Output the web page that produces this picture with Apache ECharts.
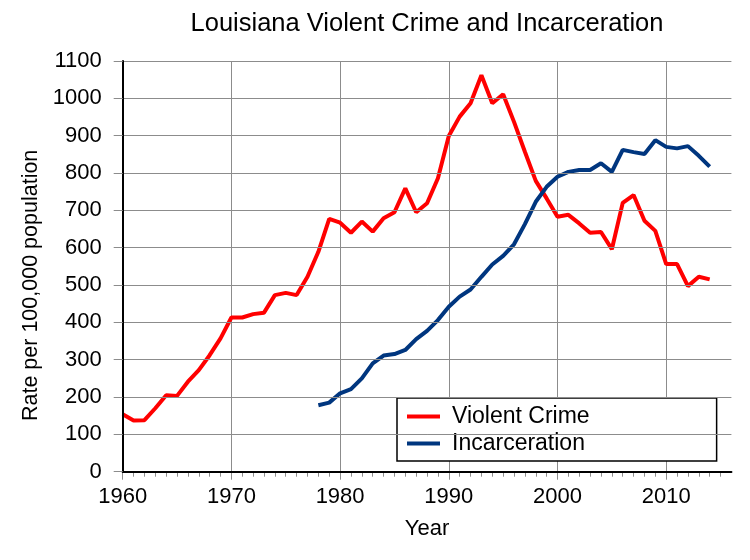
<!DOCTYPE html>
<html><head><meta charset="utf-8">
<script src="https://cdn.jsdelivr.net/npm/echarts@6/dist/echarts.min.js"></script>
<style>html,body{margin:0;padding:0;background:#fff}#c{width:750px;height:560px}</style>
</head><body><div id="c"></div>
<script>
const years = [];
for (let y = 1960; y <= 2014; y++) years.push(y);
const violentCrime = [154,137,138,170,205,203,241,272,312,357,413,413,422,426,473,479,473,522,589,677,
  667,640,670,643,679,695,759,695,719,786,899,951,987,1062,987,1011,937,857,779,732,
  683,688,665,640,642,596,720,741,672,645,556,556,497,522,515];
const incarceration = [null,null,null,null,null,null,null,null,null,null,null,null,null,null,null,null,null,null,178,185,
  210,221,250,290,311,315,326,355,377,406,442,469,488,522,555,578,609,663,723,763,
  790,803,808,808,826,803,862,856,851,888,870,866,872,846,817];
const yTicks = [0,100,200,300,400,500,600,700,800,900,1000,1100];

const FONT = '"Liberation Sans", Arial, sans-serif';
const L = 122.7, PX = 10.87, TOP = 61, BOTTOM = 88.3;
const rightOf = yr => 750 - (L + (yr - 1960) * PX);
const gray = '#8c8c8c';

const chart = echarts.init(document.getElementById('c'));
chart.setOption({
  animation: false,
  backgroundColor: '#fff',
  title: {
    text: 'Louisiana Violent Crime and Incarceration',
    left: 427, top: 11, textAlign: 'center', padding: 0,
    textStyle: {fontFamily: FONT, fontSize: 25.5, fontWeight: 'normal', color: '#000'}
  },
  legend: {
    orient: 'vertical', left: 397, top: 398,
    padding: [7, 127, 6, 10], itemGap: 4,
    itemWidth: 33, itemHeight: 4,
    backgroundColor: '#fff', borderColor: '#000', borderWidth: 1.5,
    icon: 'rect',
    textStyle: {fontFamily: FONT, fontSize: 23, color: '#000', padding: [0, 0, 0, 7]},
    data: ['Violent Crime', 'Incarceration']
  },
  grid: [
    {left: L, right: rightOf(2016), top: TOP, bottom: BOTTOM},
    {left: L, right: rightOf(2015), top: TOP, bottom: BOTTOM},
    {left: L, right: rightOf(2010), top: TOP, bottom: BOTTOM}
  ],
  xAxis: [
    {type: 'value', gridIndex: 0, min: 1960, max: 2016, interval: 1,
     axisLine: {show: true, lineStyle: {color: '#000', width: 2}},
     axisTick: {show: false}, axisLabel: {show: false}, splitLine: {show: false},
     name: 'Year', nameLocation: 'middle', nameGap: 46, nameTextStyle: {fontFamily: FONT, fontSize: 22, color: '#000'}, z: 5},
    {type: 'value', gridIndex: 1, min: 1960, max: 2015, interval: 1,
     axisLine: {show: false}, axisTick: {show: true, length: 5, lineStyle: {color: gray, width: 1}},
     axisLabel: {show: false}, splitLine: {show: false}},
    {type: 'value', gridIndex: 2, min: 1960, max: 2010, interval: 10,
     axisLine: {show: false}, axisTick: {show: true, length: 8, lineStyle: {color: gray, width: 1}},
     axisLabel: {show: true, margin: 14, fontFamily: FONT, fontSize: 22, color: '#000', formatter: v => String(v)},
     splitLine: {show: true, lineStyle: {color: gray, width: 1}}}
  ],
  yAxis: [
    {type: 'value', gridIndex: 0, min: 0, max: 1100, interval: 100,
     axisLine: {show: true, lineStyle: {color: '#000', width: 2}},
     axisTick: {show: true, length: 9, lineStyle: {color: gray, width: 1}},
     axisLabel: {margin: 21, fontFamily: FONT, fontSize: 22, color: '#000',
       formatter: v => yTicks.includes(v) ? String(v) : ''},
     splitLine: {show: true, lineStyle: {color: gray, width: 1}},
     name: 'Rate per 100,000 population', nameLocation: 'middle', nameGap: 77,
     nameTextStyle: {fontFamily: FONT, fontSize: 21.5, color: '#000', padding: [0, 38, 0, 0]}, z: 5},
    {type: 'value', gridIndex: 1, min: 0, max: 1100, show: false},
    {type: 'value', gridIndex: 2, min: 0, max: 1100, show: false}
  ],
  series: [
    {name: 'Violent Crime', type: 'line', xAxisIndex: 0, yAxisIndex: 0, showSymbol: false, z: 3,
     lineStyle: {color: '#ff0000', width: 4}, itemStyle: {color: '#ff0000'},
     data: years.map((y, i) => [y, violentCrime[i]])},
    {name: 'Incarceration', type: 'line', xAxisIndex: 0, yAxisIndex: 0, showSymbol: false, z: 3,
     lineStyle: {color: '#00367f', width: 4}, itemStyle: {color: '#00367f'},
     data: years.map((y, i) => [y, incarceration[i]]).filter(d => d[1] !== null)}
  ]
});
</script></body></html>
